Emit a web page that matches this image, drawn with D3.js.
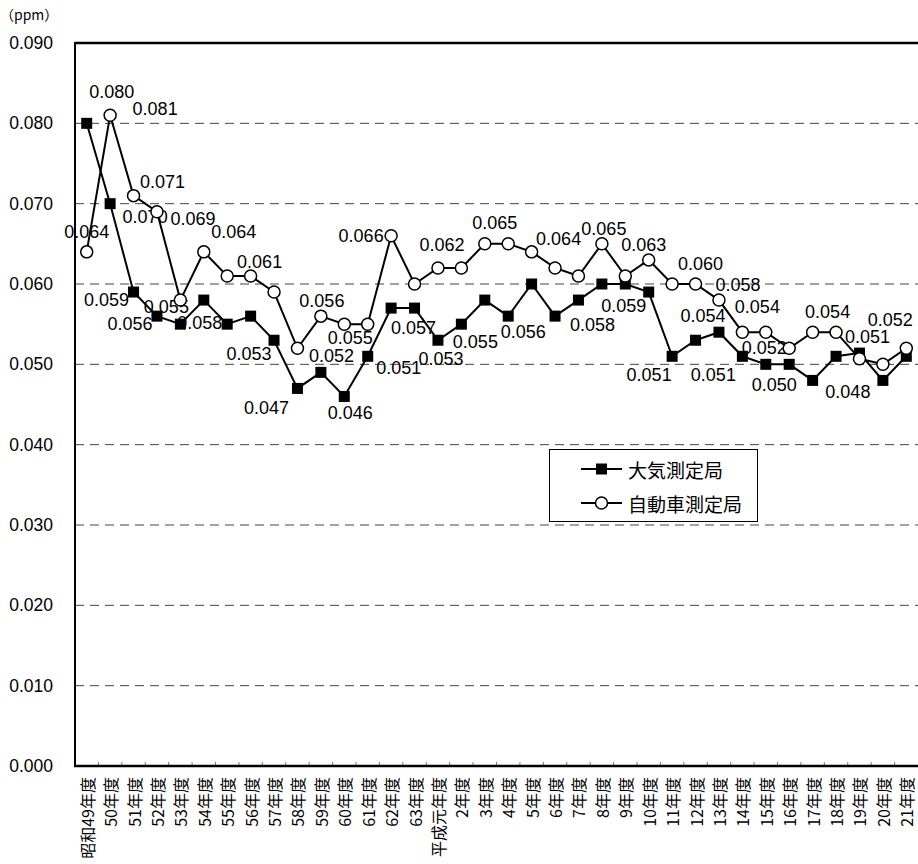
<!DOCTYPE html>
<html><head><meta charset="utf-8">
<script src="https://cdn.jsdelivr.net/npm/d3@7"></script>
<style>body{margin:0;background:#fff}svg{display:block}</style>
</head><body>
<svg id="c" width="918" height="864"></svg>
<script>
const categories = ["昭和49年度","50年度","51年度","52年度","53年度","54年度","55年度","56年度","57年度","58年度","59年度","60年度","61年度","62年度","63年度","平成元年度","2年度","3年度","4年度","5年度","6年度","7年度","8年度","9年度","10年度","11年度","12年度","13年度","14年度","15年度","16年度","17年度","18年度","19年度","20年度","21年度"];
const seriesNames = ["大気測定局","自動車測定局"];
const taiki = [0.080,0.070,0.059,0.056,0.055,0.058,0.055,0.056,0.053,0.047,0.049,0.046,0.051,0.057,0.057,0.053,0.055,0.058,0.056,0.060,0.056,0.058,0.060,0.060,0.059,0.051,0.053,0.054,0.051,0.050,0.050,0.048,0.051,0.0514,0.048,0.051];
const jidosha = [0.064,0.081,0.071,0.069,0.058,0.064,0.061,0.061,0.059,0.052,0.056,0.055,0.055,0.066,0.060,0.062,0.062,0.065,0.065,0.064,0.062,0.061,0.065,0.061,0.063,0.060,0.060,0.058,0.054,0.054,0.052,0.054,0.054,0.0507,0.050,0.052];
const yTicks = [0,0.01,0.02,0.03,0.04,0.05,0.06,0.07,0.08,0.09];
const unitLabel = "（ppm）";
// label placement: [index, dx, dy] relative to the point
const taikiLabelPos = [[0,25,-31],[1,35,13],[2,-27,8],[3,-27,8],[4,-14,-17],[5,-4,23],[8,-25,14],[9,-31,20],[11,6,17],[12,31,12],[14,-1,20],[15,3,19],[16,14,18],[18,15,16],[21,14,25],[24,-25,14],[25,-23,19],[27,-16,-16],[28,-29,19],[30,-15,21],[33,8,-16],[34,-35,12]];
const jidoshaLabelPos = [[0,0,-20],[1,45,-6],[2,29,-14],[3,36,7],[5,30,-20],[7,9,-14],[9,34,8],[10,1,-15],[11,6,14],[13,-30,0],[15,4,-23],[17,10,-21],[19,27,-13],[22,2,-15],[24,-5,-15],[26,5,-20],[27,19,-15],[28,15,-25],[30,-25,0],[31,15,-20],[35,-16,-28]];

const svg = d3.select("#c");
const L = 75, R = 918, T = 43, B = 766;
const x = d3.scaleBand().domain(categories).range([L, R]);
const y = d3.scaleLinear().domain([0, 0.09]).range([B, T]);
const cx = c => x(c) + x.bandwidth() / 2;
const font = "'Liberation Sans', Arial, 'Noto Sans CJK JP', sans-serif";

// gridlines
svg.append("g").selectAll("line").data(yTicks.filter(t => t > 0 && t < 0.09)).join("line")
  .attr("x1", L).attr("x2", R).attr("y1", d => y(d)).attr("y2", d => y(d))
  .attr("stroke", "#444").attr("stroke-width", 1).attr("stroke-dasharray", "9,6");

// y axis labels
svg.append("g").selectAll("text").data(yTicks).join("text")
  .attr("x", 53).attr("y", d => y(d)).attr("text-anchor", "end").attr("dominant-baseline", "central")
  .attr("font-family", font).attr("font-size", 17.5).attr("fill", "#000")
  .text(d => d3.format(".3f")(d));

svg.append("text").attr("x", 0).attr("y", 14).attr("dominant-baseline", "central")
  .attr("font-family", "'Noto Sans CJK JP', sans-serif").attr("font-size", 14).text(unitLabel);

// x axis
const xAxis = d3.axisBottom(x).tickSize(0).tickFormat("");
svg.append("g").attr("transform", `translate(0,${B})`).call(xAxis).call(g => g.select(".domain").remove());
svg.append("g").selectAll("line").data(categories.slice(1)).join("line")
  .attr("x1", d => x(d)).attr("x2", d => x(d)).attr("y1", B).attr("y2", B - 4)
  .attr("stroke", "#777").attr("stroke-width", 1);
svg.append("g").selectAll("text").data(categories).join("text")
  .attr("transform", d => `translate(${cx(d)},${B + 11}) rotate(-90)`)
  .attr("text-anchor", "end").attr("dominant-baseline", "central")
  .attr("font-family", "'Noto Sans CJK JP', sans-serif").attr("font-size", 16).attr("fill", "#000")
  .text(d => d);

// frame
svg.append("line").attr("x1", L).attr("x2", R).attr("y1", T).attr("y2", T).attr("stroke", "#000").attr("stroke-width", 2.5);
svg.append("line").attr("x1", L).attr("x2", L).attr("y1", T - 1).attr("y2", B + 1).attr("stroke", "#000").attr("stroke-width", 2);
svg.append("line").attr("x1", L - 1).attr("x2", R).attr("y1", B).attr("y2", B).attr("stroke", "#000").attr("stroke-width", 2.5);

const line = d3.line().x((d, i) => cx(categories[i])).y(d => y(d));

function labels(data, pos) {
  svg.append("g").selectAll("text").data(pos).join("text")
    .attr("x", p => cx(categories[p[0]]) + p[1]).attr("y", p => y(data[p[0]]) + p[2])
    .attr("text-anchor", "middle").attr("dominant-baseline", "central")
    .attr("font-family", font).attr("font-size", 18).attr("fill", "#000")
    .text(p => d3.format(".3f")(data[p[0]]));
}
labels(taiki, taikiLabelPos);
labels(jidosha, jidoshaLabelPos);

// series lines
svg.append("path").datum(jidosha).attr("d", line).attr("fill", "none").attr("stroke", "#000").attr("stroke-width", 2);
svg.append("path").datum(taiki).attr("d", line).attr("fill", "none").attr("stroke", "#000").attr("stroke-width", 2);

// markers
svg.append("g").selectAll("rect").data(taiki).join("rect")
  .attr("x", (d, i) => cx(categories[i]) - 5.5).attr("y", d => y(d) - 5.5)
  .attr("width", 11).attr("height", 11).attr("fill", "#000");
svg.append("g").selectAll("circle").data(jidosha).join("circle")
  .attr("cx", (d, i) => cx(categories[i])).attr("cy", d => y(d)).attr("r", 6)
  .attr("fill", "#fff").attr("stroke", "#000").attr("stroke-width", 1.5);

// legend
const lg = svg.append("g");
lg.append("rect").attr("x", 549.5).attr("y", 449.5).attr("width", 208).attr("height", 72)
  .attr("fill", "#fff").attr("stroke", "#000").attr("stroke-width", 1);
const rows = [469, 503];
seriesNames.forEach((n, i) => {
  lg.append("line").attr("x1", 581).attr("x2", 622).attr("y1", rows[i]).attr("y2", rows[i]).attr("stroke", "#000").attr("stroke-width", 2);
  if (i === 0) lg.append("rect").attr("x", 596).attr("y", rows[i] - 5.5).attr("width", 11).attr("height", 11).attr("fill", "#000");
  else lg.append("circle").attr("cx", 601.5).attr("cy", rows[i]).attr("r", 6).attr("fill", "#fff").attr("stroke", "#000").attr("stroke-width", 1.5);
  lg.append("text").attr("x", 628).attr("y", rows[i]).attr("dominant-baseline", "central")
    .attr("font-family", "'Noto Sans CJK JP', sans-serif").attr("font-size", 19).text(n);
});
</script>
</body></html>
